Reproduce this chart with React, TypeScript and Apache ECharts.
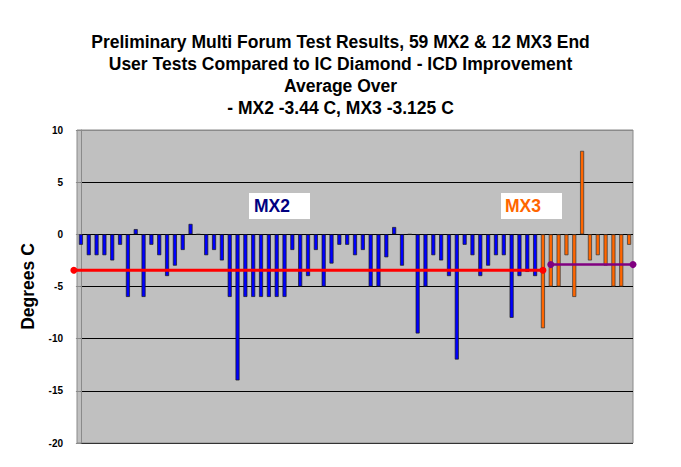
import React, { useEffect, useRef } from "react";
import * as echarts from "echarts";

const titleLines = [
  "Preliminary Multi Forum Test Results, 59 MX2 & 12 MX3 End",
  "User Tests Compared to IC Diamond - ICD Improvement",
  "Average Over",
  "- MX2 -3.44 C, MX3 -3.125 C",
];
const yAxisName = "Degrees C";
const mx2Values = [
  -1, -2, -2, -2, -2.5, -1, -6, 0.5, -6, -1, -2, -4, -3, -1.5, 1,
  0,
  -2, -1.5, -2.5, -6, -14, -6, -6, -6, -6, -6, -6, -1.5, -5,
  -4, -1.5, -5, -2.8, -1, -1, -2, -1.5, -5, -5, -2.2, 0.7, -3, 0, -9.5,
  -5, -2, -2.5, -4, -12, -1, -2, -4, -3, -2, -2, -8, -4, -3.6, -4,
];
const mx3Values = [-9, -5, -5, -2, -6, 8, -2.5, -2, -3, -5, -5, -1];
const mx2Average = -3.44;
const mx3AverageDrawn = -2.9;
const mx2LineX = [-0.9, 59];
const mx3LineX = [60, 70.5];

export default function App() {
  const ref = useRef<HTMLDivElement>(null);
  useEffect(() => {
    if (!ref.current) return;
    const chart = echarts.init(ref.current, null, { renderer: "svg" });
    const n = mx2Values.length + mx3Values.length;
    const categories = Array.from({ length: n }, (_, i) => String(i + 1));
    const mx2Data = categories.map((_, i) => (i < mx2Values.length ? mx2Values[i] : "-"));
    const mx3Data = categories.map((_, i) =>
      i >= mx2Values.length ? mx3Values[i - mx2Values.length] : "-"
    );
    const font = "'Liberation Sans', Arial, sans-serif";
    chart.setOption({
      animation: false,
      title: {
        text: titleLines.join("\n"),
        left: "center",
        top: 31,
        padding: 0,
        textStyle: {
          fontFamily: font,
          fontSize: 17.5,
          fontWeight: "bold",
          lineHeight: 22,
          color: "#000",
        },
      },
      grid: {
        left: 77,
        right: 48,
        top: 130,
        bottom: 24,
        show: true,
        backgroundColor: "#C0C0C0",
        borderColor: "#8a8a8a",
        borderWidth: 1,
      },
      xAxis: [
        {
          type: "category",
          data: categories,
          axisLine: { show: false },
          axisTick: { show: false },
          axisLabel: { show: false },
          splitLine: { show: false },
        },
        {
          type: "value",
          min: -0.5,
          max: n - 0.5,
          show: false,
        },
      ],
      yAxis: {
        type: "value",
        min: -20,
        max: 10,
        interval: 5,
        name: yAxisName,
        nameLocation: "middle",
        nameGap: 40,
        nameTextStyle: { fontFamily: font, fontSize: 17.5, fontWeight: "bold", color: "#000" },
        axisLine: { show: true, lineStyle: { color: "#8a8a8a" } },
        axisTick: { show: true, length: 5, lineStyle: { color: "#8a8a8a" } },
        axisLabel: {
          fontFamily: font,
          fontSize: 10,
          fontWeight: "bold",
          color: "#000",
          margin: 14,
        },
        splitLine: {
          show: true,
          lineStyle: {
            color: ["#333", "#000", "#000", "#000", "#000", "#000", "#8a8a8a"],
            width: 1,
          },
        },
      },
      series: [
        {
          name: "MX2",
          type: "bar",
          data: mx2Data,
          barWidth: 4,
          barGap: "-100%",
          itemStyle: { color: "#0000FF", borderColor: "#1a1a1a", borderWidth: 0.7 },
        },
        {
          name: "MX3",
          type: "bar",
          data: mx3Data,
          barWidth: 4,
          barGap: "-100%",
          itemStyle: { color: "#FF6600", borderColor: "#333", borderWidth: 0.7 },
        },
        {
          name: "MX2 average",
          type: "line",
          xAxisIndex: 1,
          clip: false,
          data: mx2LineX.map((x) => [x, mx2Average]),
          symbol: "circle",
          symbolSize: 7,
          lineStyle: { color: "#FF0000", width: 3 },
          itemStyle: { color: "#FF0000" },
          z: 5,
        },
        {
          name: "MX3 average",
          type: "line",
          xAxisIndex: 1,
          clip: false,
          data: mx3LineX.map((x) => [x, mx3AverageDrawn]),
          symbol: "circle",
          symbolSize: 7,
          lineStyle: { color: "#800080", width: 2.5 },
          itemStyle: { color: "#800080" },
          z: 5,
        },
      ],
      graphic: [
        { type: "rect", shape: { x: 249, y: 193, width: 61, height: 26 }, style: { fill: "#fff" }, z: 10 },
        {
          type: "text",
          x: 254,
          y: 206,
          style: {
            text: "MX2",
            fill: "#000080",
            font: `bold 17.5px ${font}`,
            verticalAlign: "middle",
          },
          z: 11,
        },
        { type: "rect", shape: { x: 501, y: 193, width: 61, height: 26 }, style: { fill: "#fff" }, z: 10 },
        {
          type: "text",
          x: 505,
          y: 206,
          style: {
            text: "MX3",
            fill: "#FF6600",
            font: `bold 17.5px ${font}`,
            verticalAlign: "middle",
          },
          z: 11,
        },
      ],
    });
    return () => chart.dispose();
  }, []);
  return (
    <div
      ref={ref}
      style={{ position: "fixed", left: 0, top: 0, width: 681, height: 467, background: "#fff" }}
    />
  );
}
